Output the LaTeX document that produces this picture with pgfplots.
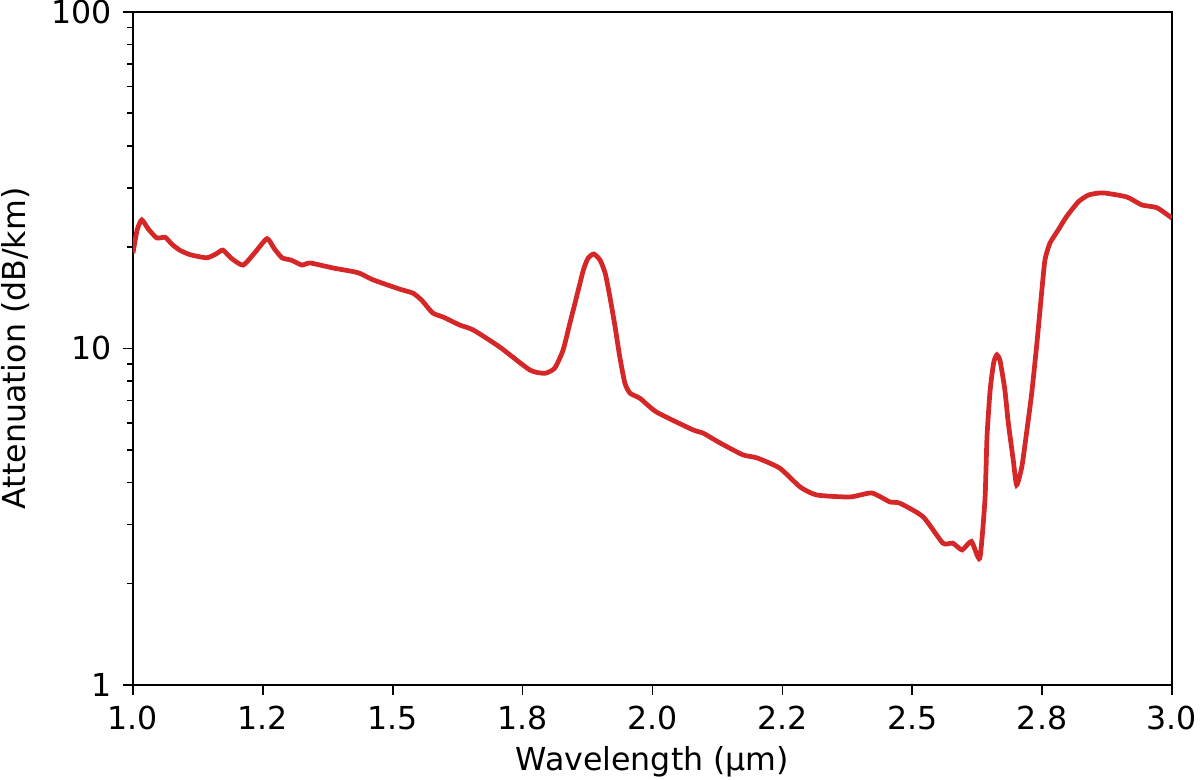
\documentclass[border=0pt]{standalone}
\usepackage{fontspec}
\setmainfont{DejaVu Sans}
\usepackage{pgfplots}
\pgfplotsset{compat=1.18}
\definecolor{tabred}{HTML}{D62728}
\begin{document}
\fontsize{12}{14}\selectfont
\begin{tikzpicture}
\begin{semilogyaxis}[
  scale only axis,
  width=13.853cm, height=8.973cm,
  xmin=1, xmax=3, ymin=1, ymax=100,
  xtick={1,1.25,1.5,1.75,2,2.25,2.5,2.75,3},
  xticklabels={1.0,1.2,1.5,1.8,2.0,2.2,2.5,2.8,3.0},
  ytick={1,10,100}, yticklabels={1,10,100},
  minor ytick={2,3,4,5,6,7,8,9,20,30,40,50,60,70,80,90},
  tick pos=left, tick align=outside,
  major tick length=3.8pt, minor tick length=2.2pt,
  every tick/.style={black, line width=0.6pt},
  axis line style={line width=0.6pt},
  /pgf/number format/assume math mode=true,
  ticklabel style={font=\fontsize{12}{14}\selectfont},
  label style={font=\fontsize{12}{14}\selectfont},
  xlabel={Wavelength (µm)},
  ylabel={Attenuation (dB/km)},
  xlabel style={yshift=2pt},
  every axis y label/.style={at={(axis description cs:-0.1126,0.5)}, anchor=center, rotate=90},
]
\coordinate (sw) at (rel axis cs:0,0);
\addplot[tabred, line width=1.8pt, smooth, tension=0.35] coordinates {
(1.000,19.2) (1.008,22.5) (1.017,24.1) (1.030,22.6) (1.046,21.3) (1.062,21.4)
(1.075,20.4) (1.090,19.6) (1.110,19.0) (1.142,18.6) (1.160,19.1) (1.173,19.6)
(1.190,18.5) (1.212,17.7) (1.235,19.3) (1.258,21.2) (1.272,19.8) (1.287,18.6)
(1.305,18.3) (1.325,17.7) (1.341,17.95) (1.385,17.35) (1.433,16.8) (1.462,16.0)
(1.514,15.0) (1.539,14.6) (1.556,13.9) (1.577,12.75) (1.597,12.4) (1.629,11.74)
(1.655,11.35) (1.706,10.1) (1.764,8.63) (1.793,8.44) (1.812,8.75) (1.828,9.90)
(1.841,11.88) (1.854,14.25) (1.867,17.12) (1.876,18.54) (1.887,19.09) (1.899,18.32)
(1.909,16.73) (1.918,14.25) (1.928,11.61) (1.937,9.45) (1.947,7.88) (1.957,7.36)
(1.976,7.11) (2.008,6.47) (2.078,5.73)
(2.097,5.61) (2.130,5.24) (2.174,4.83) (2.201,4.73) (2.245,4.41) (2.284,3.88)
(2.316,3.67) (2.380,3.62) (2.422,3.72) (2.457,3.50) (2.476,3.47) (2.521,3.16)
(2.559,2.64) (2.578,2.64) (2.596,2.52) (2.614,2.67) (2.630,2.38) (2.640,3.55)
(2.644,5.47) (2.650,7.53) (2.657,9.1) (2.663,9.57) (2.669,9.2) (2.678,7.6)
(2.685,6.0) (2.6945,4.66) (2.701,3.93) (2.711,4.45) (2.720,5.60) (2.730,7.36)
(2.740,10.36) (2.749,14.59) (2.7555,18.32) (2.765,20.54) (2.781,22.5) (2.797,24.65)
(2.820,27.3) (2.840,28.6) (2.867,29.0) (2.913,28.2) (2.942,26.7) (2.971,26.2) (3.000,24.4)
};
\end{semilogyaxis}
\pgfresetboundingbox
\path (sw) ++(-1.773cm,-1.267cm) rectangle ++(16cm,10.4cm);
\end{tikzpicture}
\end{document}
